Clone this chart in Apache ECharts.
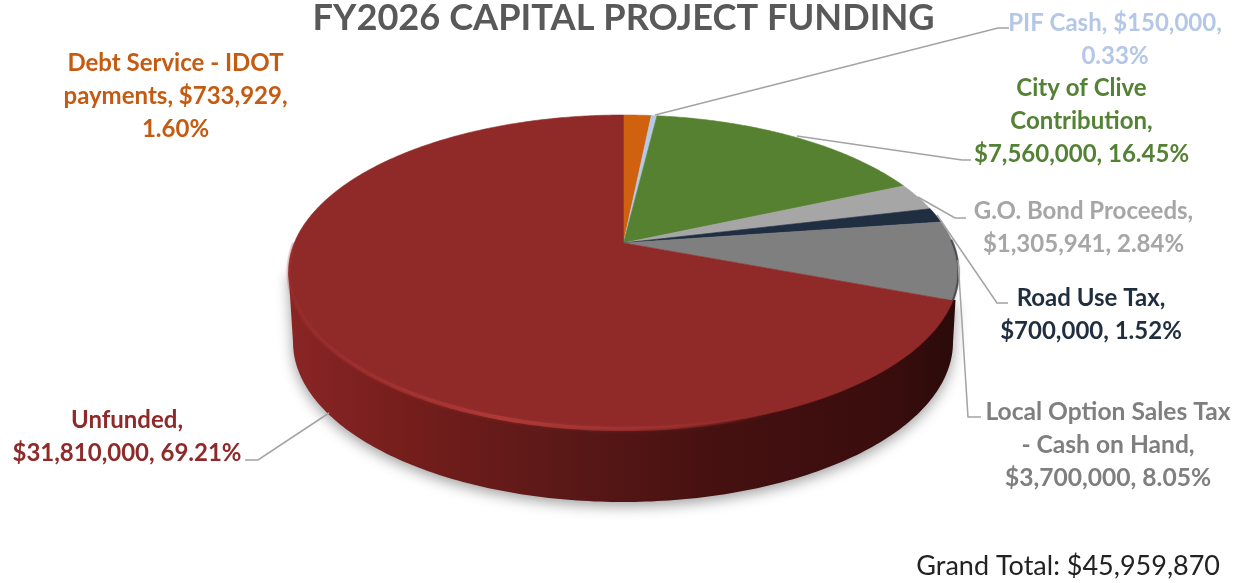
<!DOCTYPE html>
<html><head><meta charset="utf-8">
<style>html,body{margin:0;padding:0;background:#fff}#c{width:1241px;height:583px}</style>
<script src="https://cdn.jsdelivr.net/npm/echarts@6/dist/echarts.min.js"></script>
</head><body><div id="c"></div>
<script>
const chartTitle = 'FY2026 CAPITAL PROJECT FUNDING';
const grandTotal = 'Grand Total: $45,959,870';
const sliceNames = ['Debt Service - IDOT payments','PIF Cash','City of Clive Contribution','G.O. Bond Proceeds','Road Use Tax','Local Option Sales Tax - Cash on Hand','Unfunded'];
const sliceValues = [733929,150000,7560000,1305941,700000,3700000,31810000];
const sliceColors = ['#d0610f','#b4c9e4','#568130','#a6a6a6','#1f2e40','#7f7f7f','#8f2a29'];
const labelColors = ['#c55a11','#b4c7e7','#548235','#a6a6a6','#1f2f3f','#7f7f7f','#8f2a2a'];
const labelTexts = [
  'Debt Service - IDOT\npayments, $733,929,\n1.60%',
  'PIF Cash, $150,000,\n0.33%',
  'City of Clive\nContribution,\n$7,560,000, 16.45%',
  'G.O. Bond Proceeds,\n$1,305,941, 2.84%',
  'Road Use Tax,\n$700,000, 1.52%',
  'Local Option Sales Tax\n- Cash on Hand,\n$3,700,000, 8.05%',
  'Unfunded,\n$31,810,000, 69.21%'
];
const labelAnchors = [[175.5,96],[1115,39.5],[1081.5,121],[1083.5,228],[1091,315],[1108,445.5],[127,437]];
const leaderLines = [
  null,
  [[655,115],[998,28],[1009,28]],
  [[797,136],[962,160],[971,160]],
  [[918,197],[955,218],[966,218]],
  [[937,215],[997,303],[1008,303]],
  [[958,260],[968,417],[981,417]],
  [[329,413],[258,460],[245,460]]
];

const F = 'Lato, Carlito, "Open Sans", sans-serif';
const face = {cx:623.5, cy:272, rx:335, ry:157, b:0.185};
const base = {cx:623, cy:342, rx:330, ry:160};
const total = sliceValues.reduce((a,b)=>a+b,0);

// unit-circle angle (clockwise from top) -> screen point on the tilted top face
function rimPoint(t, r){
  r = r===undefined?1:r;
  const x = r*Math.sin(t), y = r*Math.cos(t), d = 1+face.b*y;
  return [face.cx+face.rx*x*Math.sqrt(1-face.b*face.b)/d, face.cy-face.ry*(y+face.b)/d];
}
function sliceAngles(i){
  let s=0; for(let k=0;k<i;k++) s+=sliceValues[k];
  return [s/total*2*Math.PI,(s+sliceValues[i])/total*2*Math.PI];
}
function renderSlice(params, api){
  const i = params.dataIndex;
  const [a0,a1] = sliceAngles(i);
  const pts = [rimPoint(0,0)];
  const n = Math.max(4,Math.ceil((a1-a0)/0.01));
  for(let k=0;k<=n;k++) pts.push(rimPoint(a0+(a1-a0)*k/n));
  return {type:'polygon',shape:{points:pts},
    style:{fill:sliceColors[i],stroke:sliceColors[i],lineWidth:0.6}};
}
function renderWall(){
  const pts=[];
  for(let k=0;k<=180;k++){const a=k/180*Math.PI;pts.push([base.cx+base.rx*Math.cos(a),base.cy+base.ry*Math.sin(a)]);}
  pts.push([face.cx-face.rx,face.cy],[face.cx+face.rx-3,face.cy+28]);
  return {type:'polygon',shape:{points:pts},style:{
    fill:new echarts.graphic.LinearGradient(0,0,1,0,[
      {offset:0,color:'#8a2525'},{offset:0.18,color:'#741e1c'},{offset:0.42,color:'#5a1817'},
      {offset:0.65,color:'#451010'},{offset:0.9,color:'#3a0d0d'},{offset:1,color:'#2a0a0a'}]),
    shadowBlur:14,shadowColor:'rgba(0,0,0,0.38)',shadowOffsetY:4}};
}
function renderRim(params){
  const pts=[];
  if(params.dataIndex===0){
    for(let k=0;k<=160;k++){const a=k/160*Math.PI*0.62;pts.push(rimPoint(Math.PI*1.5-a));}
    pts.reverse();
    return {type:'polyline',shape:{points:pts},style:{fill:null,lineWidth:4,
      stroke:new echarts.graphic.LinearGradient(0,0,1,0,[
        {offset:0,color:'rgba(165,50,48,0.2)'},{offset:0.45,color:'rgba(178,58,56,0.95)'},
        {offset:0.8,color:'rgba(160,50,48,0.6)'},{offset:1,color:'rgba(140,40,40,0)'}]),
      shadowBlur:3,shadowColor:'rgba(175,56,54,0.5)'}};
  }
  // thin dark edge where the grey slice meets the wall
  const a0=sliceAngles(5)[0]+0.12, a1=sliceAngles(5)[1];
  for(let k=0;k<=30;k++) pts.push(rimPoint(a0+(a1-a0)*k/30));
  return {type:'polyline',shape:{points:pts},style:{fill:null,lineWidth:2,stroke:'rgba(45,45,55,0.65)',shadowBlur:2,shadowColor:'rgba(45,45,55,0.4)'}};
}

const graphics = [];
leaderLines.forEach(p=>{ if(p) graphics.push({type:'polyline',z:5,silent:true,shape:{points:p},
  style:{fill:null,stroke:'#a3a3a3',lineWidth:1.5}}); });
labelTexts.forEach((t,i)=>graphics.push({type:'text',z:6,x:labelAnchors[i][0],y:labelAnchors[i][1],silent:true,
  style:{text:t,fill:labelColors[i],font:'bold '+(i===5?24.6:24)+'px '+F,align:'center',verticalAlign:'middle',lineHeight:33}}));
graphics.push({type:'text',z:6,x:1220,y:566,silent:true,style:{text:grandTotal,fill:'#222',font:'27px '+F,align:'right',verticalAlign:'middle'}});
graphics.push({type:'text',z:6,x:623.5,y:18,silent:true,style:{text:chartTitle,fill:'#595959',font:'bold 36.2px '+F,align:'center',verticalAlign:'middle'}});

const chart = echarts.init(document.getElementById('c'),null,{renderer:'canvas'});
chart.setOption({
  animation:false,backgroundColor:'#fff',
  graphic:graphics,
  series:[
    {type:'custom',coordinateSystem:'none',z:1,renderItem:renderWall,data:[[1]],silent:true},
    {type:'custom',coordinateSystem:'none',z:2,renderItem:renderSlice,silent:true,
      data:sliceValues.map((v,i)=>({name:sliceNames[i],value:[v]}))},
    {type:'custom',coordinateSystem:'none',z:3,renderItem:renderRim,data:[[1],[2]],silent:true}
  ]
});
</script></body></html>
